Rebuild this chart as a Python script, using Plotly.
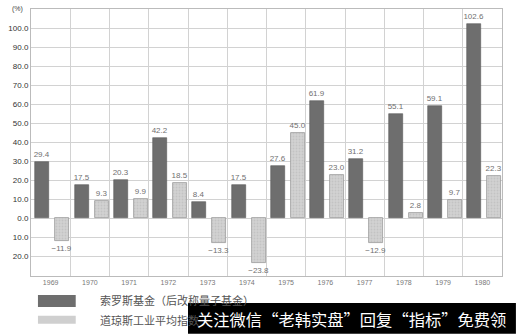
import plotly.graph_objects as go

years = ["1969", "1970", "1971", "1972", "1973", "1974", "1975", "1976", "1977", "1978", "1979", "1980"]
soros = [29.4, 17.5, 20.3, 42.2, 8.4, 17.5, 27.6, 61.9, 31.2, 55.1, 59.1, 102.6]
dow = [-11.9, 9.3, 9.9, 18.5, -13.3, -23.8, 45.0, 23.0, -12.9, 2.8, 9.7, 22.3]
ytick_vals = [-20, -10, 0, 10, 20, 30, 40, 50, 60, 70, 80, 90, 100]
ytick_text = ["20.0", "10.0", "0.0", "10.0", "20.0", "30.0", "40.0", "50.0", "60.0", "70.0", "80.0", "90.0", "100.0"]
legend_names = ["索罗斯基金（后改称量子基金）", "道琼斯工业平均指数"]
watermark = "关注微信“老韩实盘”回复“指标”免费领"


def fmt(v):
    return f"{v:.1f}".replace("-", "\u2212")


xs = list(range(len(years)))
fig = go.Figure()
fig.add_trace(go.Bar(
    x=xs, y=soros, offset=-0.39, width=0.36,
    marker=dict(color="#6e6e6e", line=dict(color="#5a5a5a", width=0.6)),
    text=[fmt(v) for v in soros], textposition="outside", constraintext="none", textangle=0,
    textfont=dict(size=8, color="#707070", family="Liberation Sans"),
    cliponaxis=False, showlegend=False, name=legend_names[0]))
fig.add_trace(go.Bar(
    x=xs, y=dow, offset=0.12, width=0.36,
    marker=dict(color="#cfcfcf", line=dict(color="#9a9a9a", width=0.8),
                pattern=dict(shape=".", fgcolor="#b4b4b4", bgcolor="#d2d2d2", size=3, solidity=0.3)),
    text=[fmt(v) for v in dow], textposition="outside", constraintext="none", textangle=0,
    textfont=dict(size=8, color="#707070", family="Liberation Sans"),
    cliponaxis=False, showlegend=False, name=legend_names[1]))

fig.update_layout(
    width=516, height=334,
    margin=dict(l=28, r=14, t=8, b=58),
    paper_bgcolor="white", plot_bgcolor="white",
    font=dict(family="Liberation Sans", color="#444444"),
    bargap=0,
    xaxis=dict(
        range=[-0.5, 11.5], tickmode="array", tickvals=xs, ticktext=years,
        showgrid=False, zeroline=False, ticks="", tickfont=dict(size=7, color="#777777"),
        showline=True, linecolor="#bbbbbb", mirror=True,
        minor=dict(tickmode="array", tickvals=[i + 0.5 for i in range(11)], showgrid=True,
                   gridcolor="#d2d2d2", gridwidth=1, ticks=""),
    ),
    yaxis=dict(
        range=[-30.5, 110.3], tickmode="array", tickvals=ytick_vals, ticktext=ytick_text,
        showgrid=True, gridcolor="#d2d2d2", gridwidth=1, zeroline=False,
        tickfont=dict(size=8, color="#333333"), ticks="",
        showline=True, linecolor="#bbbbbb", mirror=True,
    ),
)

fig.add_annotation(text="(%)", xref="paper", yref="paper", x=-0.012, y=1.0,
                   xanchor="right", yanchor="middle", showarrow=False,
                   font=dict(size=7, color="#444444"))

# legend swatches
fig.add_shape(type="rect", xref="paper", yref="paper",
              x0=(35 - 28) / 474, x1=(73 - 28) / 474,
              y0=-(307 - 276) / 268, y1=-(295 - 276) / 268,
              fillcolor="#6e6e6e", line=dict(width=0))
fig.add_shape(type="rect", xref="paper", yref="paper",
              x0=(35 - 28) / 474, x1=(73 - 28) / 474,
              y0=-(324 - 276) / 268, y1=-(316 - 276) / 268,
              fillcolor="#cfcfcf", line=dict(width=0))
fig.add_annotation(text=legend_names[0], xref="paper", yref="paper",
                   x=(95 - 28) / 474, y=-(300 - 276) / 268, xanchor="left", yanchor="middle",
                   showarrow=False, font=dict(size=11, color="#555555", family="Noto Sans CJK SC"))
fig.add_annotation(text=legend_names[1], xref="paper", yref="paper",
                   x=(95 - 28) / 474, y=-(320 - 276) / 268, xanchor="left", yanchor="middle",
                   showarrow=False, font=dict(size=11, color="#555555", family="Noto Sans CJK SC"))

# watermark overlay
fig.add_shape(type="rect", xref="paper", yref="paper",
              x0=(186 - 28) / 474, x1=(516 - 28) / 474,
              y0=-(334 - 276) / 268, y1=-(303 - 276) / 268,
              fillcolor="black", line=dict(width=0))
fig.add_annotation(text=watermark, xref="paper", yref="paper",
                   x=(193 - 28) / 474, y=-(319 - 276) / 268, xanchor="left", yanchor="middle",
                   showarrow=False, font=dict(size=16.3, color="white", family="Noto Sans CJK SC"))

fig.write_html("out.html")
